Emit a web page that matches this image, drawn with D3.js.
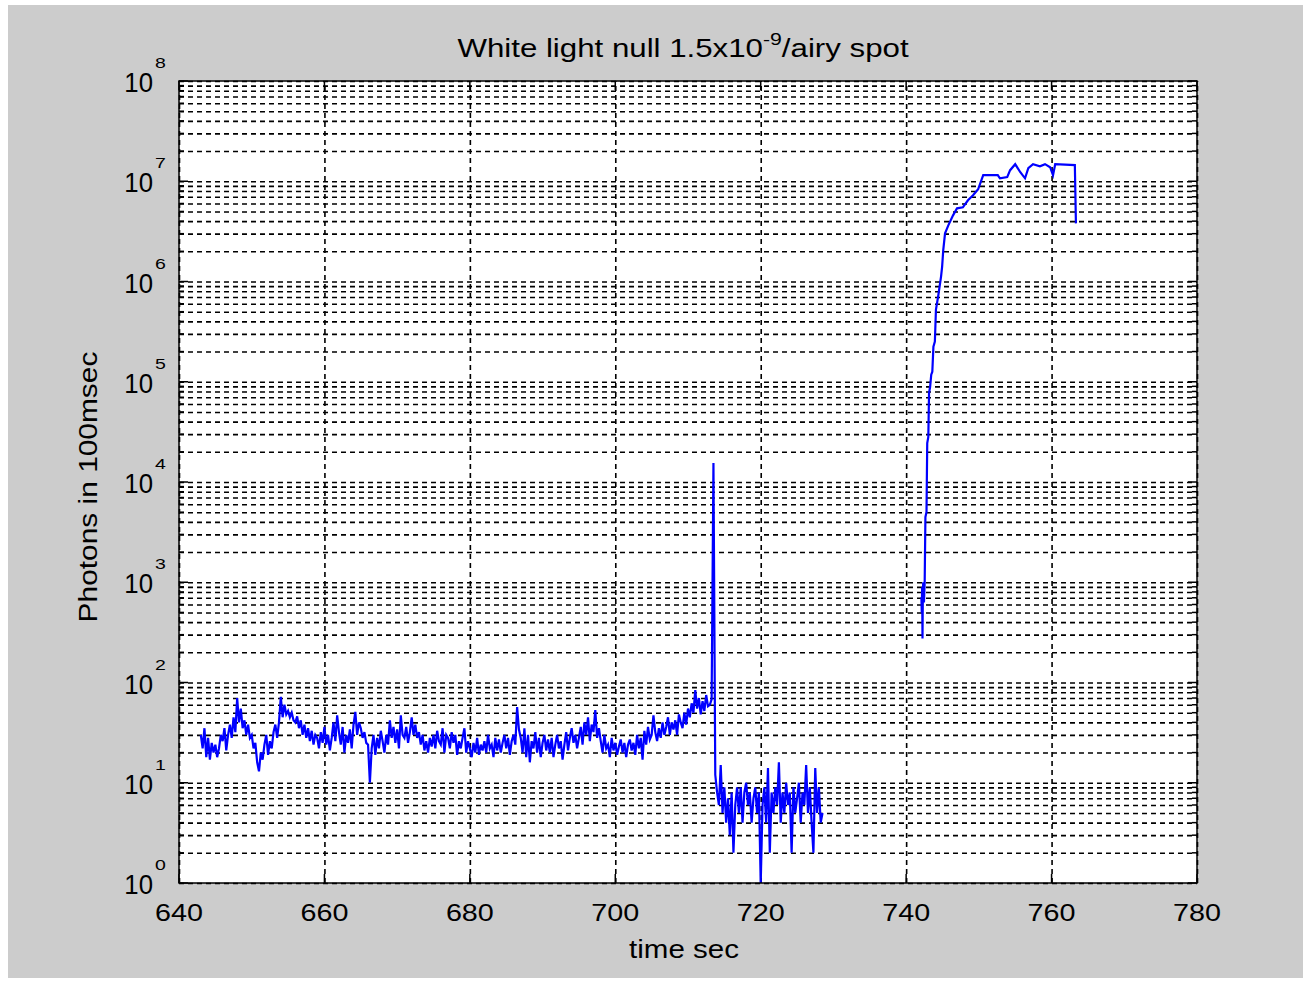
<!DOCTYPE html>
<html>
<head>
<meta charset="utf-8">
<script src="https://cdn.jsdelivr.net/npm/d3@7"></script>
<style>
  body { margin: 0; background: #fff; }
  text { font-family: "Liberation Sans", Arial, sans-serif; fill: #000; }
</style>
</head>
<body>
<div id="chart"></div>
<script>
// noisy photon counts, sampled every 0.25 s from 643.0 s to 728.5 s
const tStart = 643.0;
const tStep = 0.25;
const photonsNull = [
  30, 22, 35, 18,  28, 17, 25, 20,  24, 18, 22, 30,  26, 35, 21, 30,  // 643-646
  38, 28, 45, 32,  70, 40, 55, 35,  42, 30, 38, 28,  30, 22, 25, 16,  // 647-650
  13, 20, 17, 24,  30, 19, 26, 22,  32, 38, 28, 40,  72, 45, 60, 48,  // 651-654
  52, 45, 50, 42,  40, 46, 35, 42,  30, 38, 28, 35,  26, 33, 24, 30,  // 655-658
  28, 22, 32, 25,  36, 24, 30, 21,  28, 40, 26, 47,  32, 24, 36, 20,  // 659-662
  30, 25, 34, 22,  38, 51, 30, 40,  35, 28, 32, 25,  24, 10, 22, 30,  // 663-666
  19, 28, 22, 33,  26, 20, 30, 24,  42, 28, 36, 25,  34, 22, 47, 30,  // 667-670
  28, 36, 25, 32,  45, 30, 38, 28,  32, 24, 30, 21,  26, 20, 28, 23,  // 671-674
  30, 22, 33, 26,  24, 35, 20, 30,  28, 22, 32, 25,  30, 19, 26, 22,  // 675-678
  28, 35, 20, 26,  22, 18, 25, 20,  28, 19, 24, 21,  26, 20, 30, 22,  // 679-682
  24, 18, 28, 21,  27, 20, 25, 30,  22, 28, 19, 26,  30, 24, 57, 34,  // 683-686
  28, 20, 35, 18,  30, 16, 26, 22,  32, 20, 28, 18,  25, 30, 21, 27,  // 687-690
  20, 28, 18, 24,  30, 22, 26, 17,  24, 32, 21, 28,  35, 25, 30, 22,  // 691-694
  28, 36, 24, 40,  30, 45, 26, 38,  32, 53, 28, 35,  26, 20, 30, 22,  // 695-698
  24, 18, 28, 21,  25, 19, 23, 27,  20, 25, 18, 24,  27, 21, 25, 19,  // 699-702
  30, 22, 28, 17,  33, 24, 36, 27,  30, 47, 32, 26,  35, 28, 40, 30,  // 703-706
  36, 45, 30, 40,  34, 42, 30, 48,  40, 35, 50, 38,  55, 45, 62, 50,  // 707-710
  84, 55, 70, 48,  65, 52, 75, 58,  60, 68, 15500, 12,                // 711-713
  8, 6, 15, 5,  9, 4, 7, 3,  8, 2, 6, 9,  5, 9, 4, 8,                 // 714-717
  10, 6, 8, 4,  7, 9, 5, 8,  1, 6, 9, 4,  14, 2, 8, 5,                // 718-721
  9, 6, 16, 4,  8, 5, 10, 6,  8, 2, 9, 5,  7, 10, 4, 8,               // 722-725
  6, 15, 5, 9,  4, 2, 14, 5,  9, 4, 5                                 // 726-728.5
];

// second run: light switched back on
const riseTimes = [
  742.10, 742.15, 742.20, 742.25, 742.30, 742.35, 742.45, 742.55, 742.65, 742.80,
  742.90, 743.05, 743.15, 743.30, 743.45, 743.60, 743.75, 743.95, 744.10, 744.40,
  744.80, 744.95, 745.10, 745.35, 745.80, 746.45, 747.00, 747.80, 748.50, 749.20,
  749.90, 750.60, 752.60, 752.90, 753.90, 754.30, 755.00, 755.70, 756.35, 756.80,
  757.45, 758.40, 759.10, 759.80, 760.20, 760.50, 763.20, 763.35
];
const riseValues = [
  708, 500, 890, 275, 794, 1000, 630, 1000, 4470, 5010,
  24500, 28200, 77600, 89100, 117500, 126000, 224000, 251000, 525000, 708000,
  1.12e6, 1.41e6, 2.04e6, 3.02e6, 3.63e6, 4.57e6, 5.37e6, 5.5e6, 6.46e6, 7.24e6,
  8.32e6, 1.15e7, 1.15e7, 1.07e7, 1.1e7, 1.29e7, 1.48e7, 1.23e7, 1.07e7, 1.35e7,
  1.48e7, 1.41e7, 1.48e7, 1.38e7, 1.15e7, 1.48e7, 1.45e7, 3.8e6
];

const xTicks = [640, 660, 680, 700, 720, 740, 760, 780];
const yExponents = [0, 1, 2, 3, 4, 5, 6, 7, 8];

const W = 1303, H = 984;
const plot = { left: 179, right: 1197, top: 81, bottom: 883 };

const svg = d3.select("#chart").append("svg")
  .attr("width", W)
  .attr("height", H);

svg.append("rect").attr("x", 8).attr("y", 5)
  .attr("width", W - 8).attr("height", 973)
  .attr("fill", "#cccccc");

svg.append("rect")
  .attr("x", plot.left).attr("y", plot.top)
  .attr("width", plot.right - plot.left).attr("height", plot.bottom - plot.top)
  .attr("fill", "#fff");

const x = d3.scaleLinear().domain([640, 780]).range([plot.left, plot.right]);
const y = d3.scaleLog().domain([1, 1e8]).range([plot.bottom, plot.top]);

// grid values for log axis: 1..9 x 10^k
const yGrid = [];
yExponents.forEach(k => {
  for (let m = 1; m <= 9; m++) {
    if (k === 8 && m > 1) break;
    yGrid.push(m * Math.pow(10, k));
  }
});

const gridY = svg.append("g")
  .attr("transform", `translate(${plot.left},0)`)
  .call(d3.axisLeft(y).tickValues(yGrid).tickSize(-(plot.right - plot.left)).tickFormat(""));
gridY.select(".domain").remove();
gridY.selectAll("line").attr("stroke", "#000").attr("stroke-dasharray", "5,4").attr("stroke-width", 1.6);

const gridX = svg.append("g")
  .attr("transform", `translate(0,${plot.bottom})`)
  .call(d3.axisBottom(x).tickValues(xTicks).tickSize(-(plot.bottom - plot.top)).tickFormat(""));
gridX.select(".domain").remove();
gridX.selectAll("line").attr("stroke", "#000").attr("stroke-dasharray", "5,4").attr("stroke-width", 1.6);

// tick marks on all four sides
const tickLen = d => (Math.log10(d) % 1 === 0 ? 9 : 5);
[plot.left, plot.right].forEach((px, i) => {
  svg.append("g").selectAll("line").data(yGrid).enter().append("line")
    .attr("x1", px).attr("x2", d => px + (i === 0 ? tickLen(d) : -tickLen(d)))
    .attr("y1", d => y(d)).attr("y2", d => y(d))
    .attr("stroke", "#000").attr("stroke-width", 1.5);
});
[plot.bottom, plot.top].forEach((py, i) => {
  svg.append("g").selectAll("line").data(xTicks).enter().append("line")
    .attr("x1", d => x(d)).attr("x2", d => x(d))
    .attr("y1", py).attr("y2", py + (i === 0 ? -9 : 9))
    .attr("stroke", "#000").attr("stroke-width", 1.5);
});

// data
const nullPoints = photonsNull.map((v, i) => [tStart + i * tStep, v]);
const risePoints = riseTimes.map((t, i) => [t, riseValues[i]]);
const line = d3.line().x(d => x(d[0])).y(d => y(d[1]));

[nullPoints, risePoints].forEach(pts => {
  svg.append("path")
    .datum(pts)
    .attr("d", line)
    .attr("fill", "none")
    .attr("stroke", "#0000ff")
    .attr("stroke-width", 2.2)
    .attr("stroke-linejoin", "miter");
});

// axes box
svg.append("rect")
  .attr("x", plot.left).attr("y", plot.top)
  .attr("width", plot.right - plot.left).attr("height", plot.bottom - plot.top)
  .attr("fill", "none").attr("stroke", "#000").attr("stroke-width", 1.5);

// text helper: bitmap-like font, stretched per label
function label(px, py, str, size, anchor, sx, rot) {
  return svg.append("text")
    .attr("transform", `translate(${px},${py})${rot ? " rotate(" + rot + ")" : ""} scale(${sx},1)`)
    .attr("text-anchor", anchor)
    .style("font-size", size + "px")
    .text(str);
}

xTicks.forEach(t => label(x(t), 921, String(t), 23, "middle", 1.25));

yExponents.forEach(k => {
  const py = y(Math.pow(10, k));
  label(153, py + 11, "10", 28, "end", 0.92);
  label(155, py - 13, String(k), 15, "start", 1.3);
});

// title with superscript
const title = svg.append("text")
  .attr("transform", `translate(683,57) scale(1.25,1)`)
  .attr("text-anchor", "middle")
  .style("font-size", "25px");
title.append("tspan").text("White light null 1.5x10");
title.append("tspan").attr("dy", -12).style("font-size", "17px").text("-9");
title.append("tspan").attr("dy", 12).text("/airy spot");

label(684, 958, "time sec", 25, "middle", 1.18);
label(97, 487, "Photons in 100msec", 26, "middle", 1.15, -90);
</script>
</body>
</html>
